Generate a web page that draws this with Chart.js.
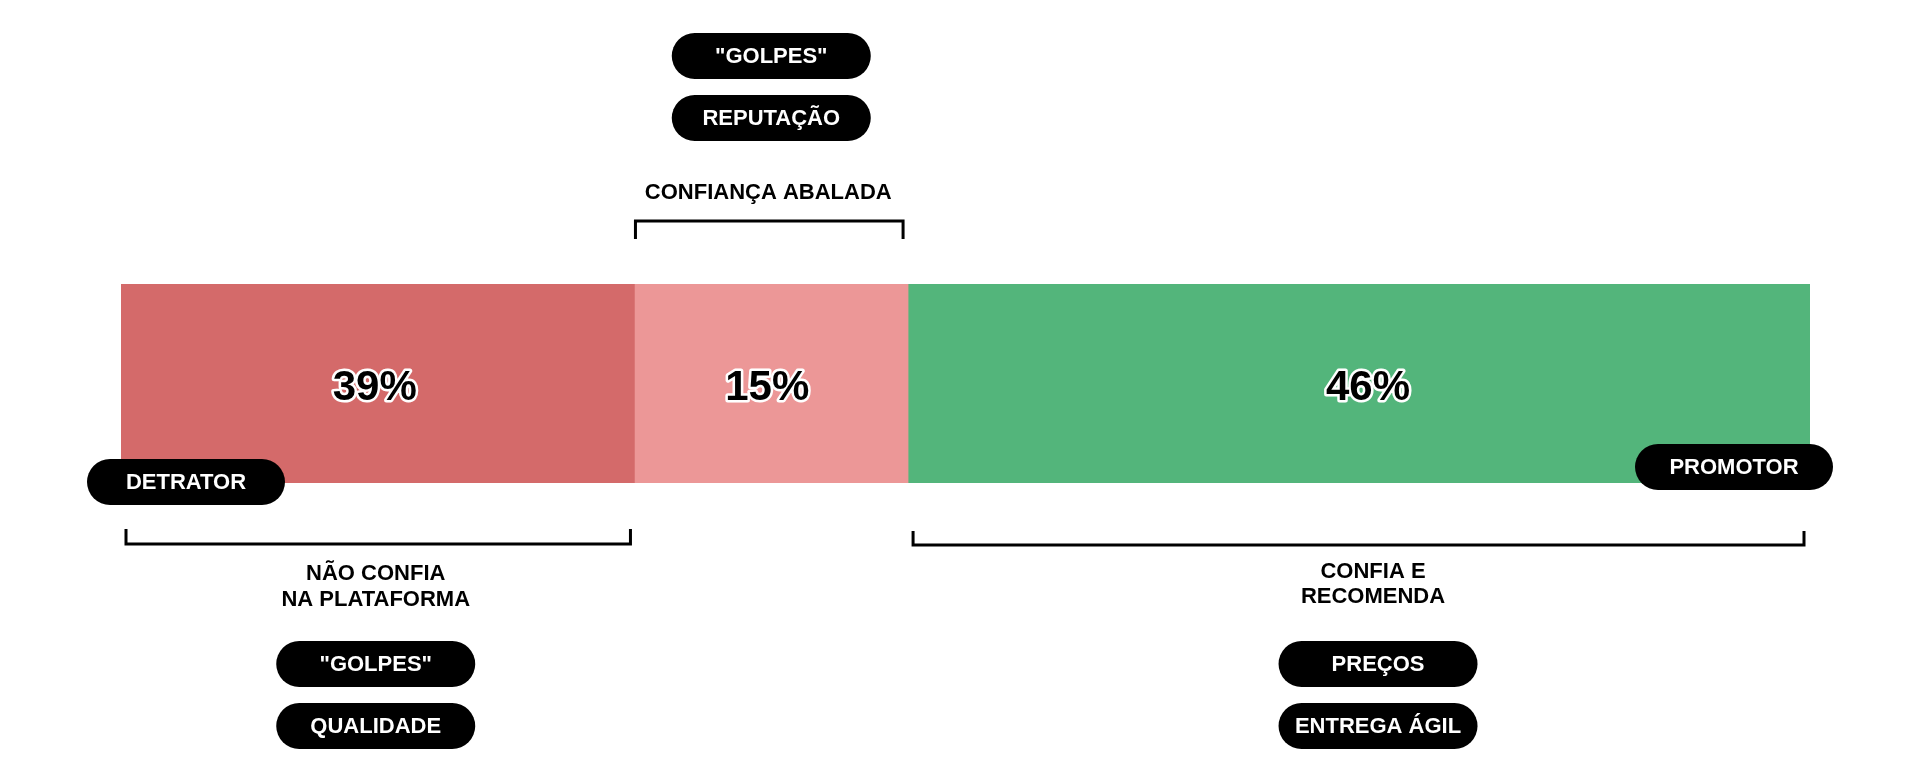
<!DOCTYPE html>
<html>
<head>
<meta charset="utf-8">
<script src="https://cdn.jsdelivr.net/npm/chart.js@4.4.1/dist/chart.umd.min.js"></script>
<style>
  html, body { margin: 0; padding: 0; background: #fff; }
  #wrap { width: 1920px; height: 777px; position: relative; }
</style>
</head>
<body>
<div id="wrap"><canvas id="chart1"></canvas></div>
<script>
const categories = ['Clientes'];
const segmentNames = ['Detrator', 'Neutro', 'Promotor'];
const segmentLabels = ['39%', '15%', '46%'];
// segment lengths as drawn in the picture (share of the full bar)
const segmentWidths = [30.4, 16.2, 53.4];
const segmentColors = ['#D46A6A', '#EC9797', '#53B57B'];

const bracketTitles = [['NÃO CONFIA', 'NA PLATAFORMA'], ['CONFIANÇA ABALADA'], ['CONFIA E', 'RECOMENDA']];
const segmentTags = [['"GOLPES"', 'QUALIDADE'], ['"GOLPES"', 'REPUTAÇÃO'], ['PREÇOS', 'ENTREGA ÁGIL']];

const FONT = '"Liberation Sans", Arial, sans-serif';

function pill(ctx, cx, cy, w, h, text) {
  const r = h / 2;
  ctx.beginPath();
  ctx.moveTo(cx - w / 2 + r, cy - r);
  ctx.lineTo(cx + w / 2 - r, cy - r);
  ctx.arc(cx + w / 2 - r, cy, r, -Math.PI / 2, Math.PI / 2);
  ctx.lineTo(cx - w / 2 + r, cy + r);
  ctx.arc(cx - w / 2 + r, cy, r, Math.PI / 2, Math.PI * 1.5);
  ctx.closePath();
  ctx.fillStyle = '#000';
  ctx.fill();
  ctx.fillStyle = '#fff';
  ctx.font = 'bold 22px ' + FONT;
  ctx.textAlign = 'center';
  ctx.textBaseline = 'middle';
  ctx.fillText(text, cx, cy + 1);
}

function bracket(ctx, x1, x2, yLine, yEnd) {
  ctx.beginPath();
  ctx.moveTo(x1, yEnd);
  ctx.lineTo(x1, yLine);
  ctx.lineTo(x2, yLine);
  ctx.lineTo(x2, yEnd);
  ctx.strokeStyle = '#000';
  ctx.lineWidth = 3;
  ctx.lineJoin = 'miter';
  ctx.stroke();
}

const decorations = {
  id: 'decorations',
  afterDatasetsDraw(chart) {
    const ctx = chart.ctx;
    const segs = chart.data.datasets.map((d, i) => chart.getDatasetMeta(i).data[0]);
    const labelShift = [-3, -4, 9];
    ctx.save();

    // percentage labels
    segs.forEach((el, i) => {
      const cx = (el.x + el.base) / 2 + labelShift[i];
      ctx.font = 'bold 42px ' + FONT;
      ctx.textAlign = 'center';
      ctx.textBaseline = 'middle';
      ctx.lineJoin = 'round';
      ctx.lineWidth = 5;
      ctx.strokeStyle = '#fff';
      ctx.strokeText(segmentLabels[i], cx, el.y + 5);
      ctx.fillStyle = '#000';
      ctx.fillText(segmentLabels[i], cx, el.y + 5);
    });

    const top = segs[0].y - segs[0].height / 2;
    const bottom = segs[0].y + segs[0].height / 2;
    const left = segs[0].base;
    const right = segs[2].x;

    // brackets
    bracket(ctx, segs[0].base + 5, segs[0].x - 4, bottom + 61, bottom + 46);
    bracket(ctx, segs[1].base + 1, segs[1].x - 5, top - 63, top - 45);
    bracket(ctx, segs[2].base + 5, segs[2].x - 6, bottom + 62, bottom + 48);

    // bracket titles
    ctx.fillStyle = '#000';
    ctx.font = 'bold 22px ' + FONT;
    ctx.textAlign = 'center';
    ctx.textBaseline = 'middle';
    const c0 = (segs[0].x + segs[0].base) / 2 - 2;
    const c1 = (segs[1].x + segs[1].base) / 2 - 3;
    const c2 = (segs[2].x + segs[2].base) / 2 + 14;
    bracketTitles[0].forEach((t, k) => ctx.fillText(t, c0, bottom + 91 + k * 26));
    ctx.fillText(bracketTitles[1][0], c1, top - 91);
    bracketTitles[2].forEach((t, k) => ctx.fillText(t, c2, bottom + 89 + k * 25));

    // tag pills
    segmentTags[0].forEach((t, k) => pill(ctx, c0, bottom + 181 + k * 62, 199, 46, t));
    segmentTags[1].forEach((t, k) => pill(ctx, c1 + 3, top - 228 + k * 62, 199, 46, t));
    segmentTags[2].forEach((t, k) => pill(ctx, c2 + 5, bottom + 181 + k * 62, 199, 46, t));

    // end pills
    pill(ctx, left + 65, bottom - 1, 198, 46, 'DETRATOR');
    pill(ctx, right - 76, bottom - 16, 198, 46, 'PROMOTOR');

    ctx.restore();
  }
};

new Chart(document.getElementById('chart1'), {
  type: 'bar',
  data: {
    labels: categories,
    datasets: segmentNames.map((name, i) => ({
      label: name,
      data: [segmentWidths[i]],
      backgroundColor: segmentColors[i],
      borderWidth: 0,
      barPercentage: 1,
      categoryPercentage: 1
    }))
  },
  options: {
    indexAxis: 'y',
    responsive: true,
    maintainAspectRatio: false,
    animation: false,
    layout: { padding: { left: 121, right: 110, top: 284, bottom: 294 } },
    scales: {
      x: { stacked: true, display: false, min: 0, max: 100 },
      y: { stacked: true, display: false }
    },
    plugins: {
      legend: { display: false },
      tooltip: { enabled: false }
    }
  },
  plugins: [decorations]
});
</script>
</body>
</html>
